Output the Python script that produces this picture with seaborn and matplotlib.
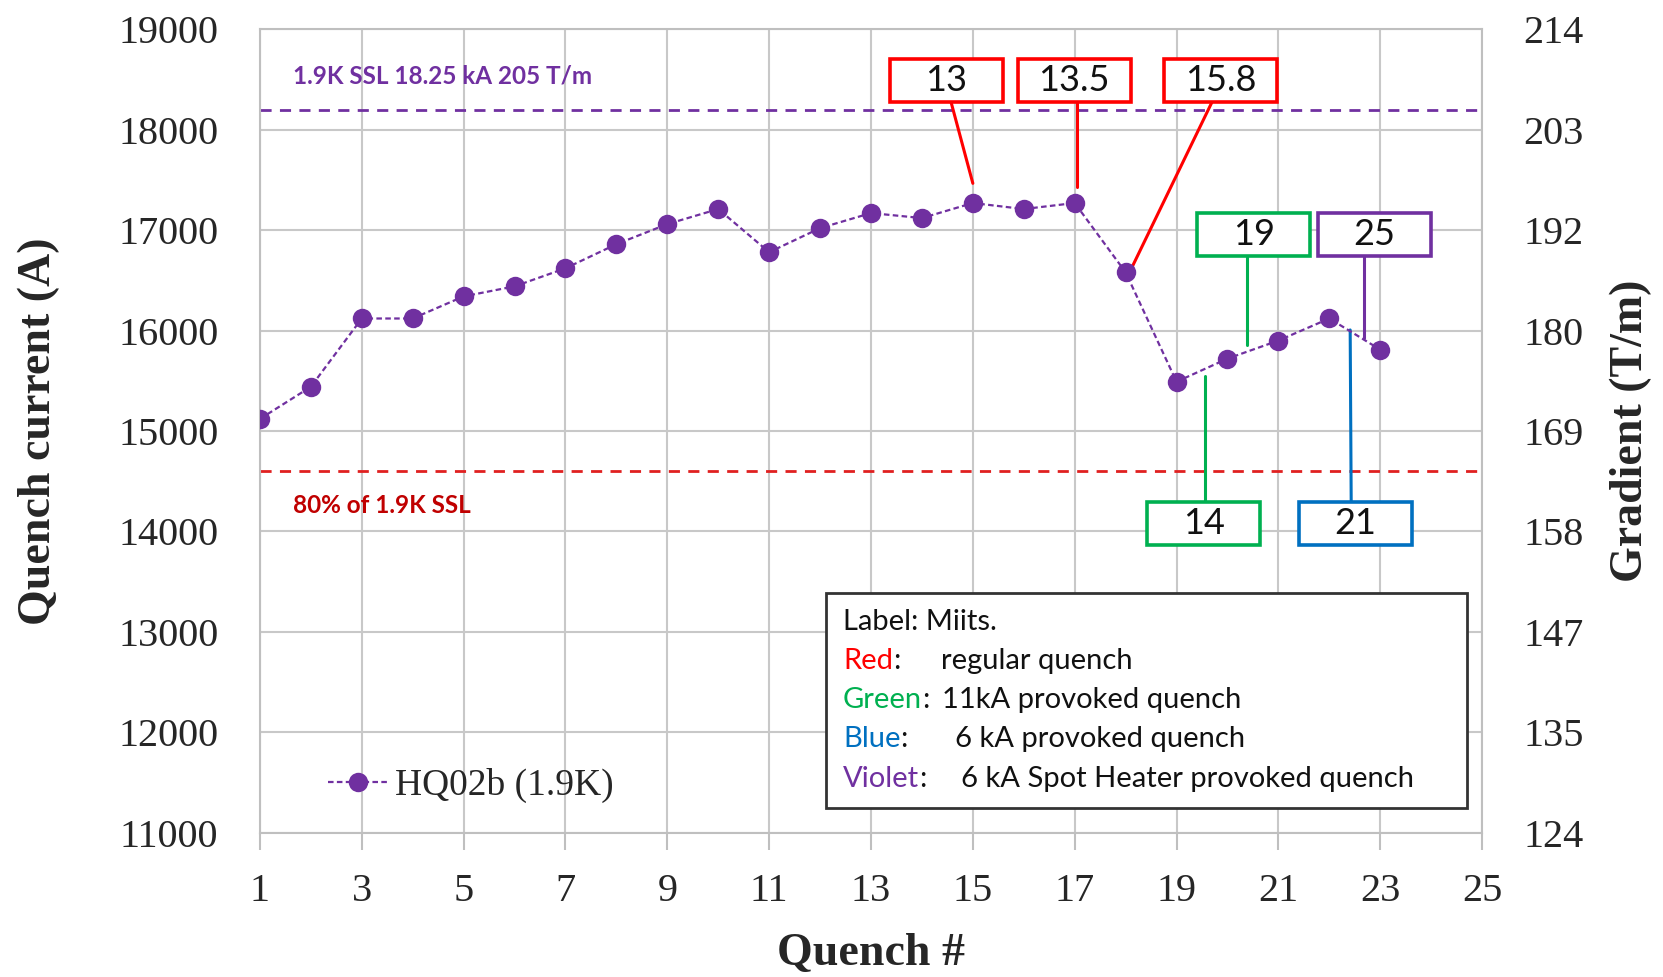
import matplotlib
matplotlib.use("Agg")
import matplotlib.pyplot as plt
import seaborn as sns
import pandas as pd
from matplotlib.patches import Rectangle

# ---------------- data ----------------
quench_no = list(range(1, 24))
quench_current = [15120, 15440, 16120, 16120, 16340, 16440, 16620, 16860, 17060, 17210,
                  16780, 17020, 17170, 17120, 17270, 17210, 17270, 16580, 15490, 15720,
                  15900, 16120, 15810]
series_name = "HQ02b (1.9K)"

ssl_current = 18200
ssl_text = "1.9K SSL 18.25 kA 205 T/m"
ssl80_current = 14600
ssl80_text = "80% of 1.9K SSL"

y_ticks = [11000, 12000, 13000, 14000, 15000, 16000, 17000, 18000, 19000]
gradient_labels = ["124", "135", "147", "158", "169", "180", "192", "203", "214"]
x_ticks = list(range(1, 26, 2))

# Miits labels
miits_text = ["13", "13.5", "15.8", "19", "25", "14", "21"]
miits_kind = ["Red", "Red", "Red", "Green", "Violet", "Green", "Blue"]

legend_lines = [("", "Label: Miits."),
                ("Red", "regular quench"),
                ("Green", "11kA provoked quench"),
                ("Blue", "6 kA provoked quench"),
                ("Violet", "6 kA Spot Heater provoked quench")]

# ---------------- layout / styles ----------------
kind_color = {"Red": "#FF0000", "Green": "#00B050", "Blue": "#0070C0", "Violet": "#7030A0"}
purple = "#7030A0"
box_center = [(14.48, 18494), (16.99, 18494), (19.86, 18494), (20.52, 16954),
              (22.88, 16954), (19.53, 14075), (22.51, 14075)]
box_w, box_h = 2.22, 430
leaders = [(14.57, 18279, 15.0, 17466), (17.05, 18279, 17.05, 17432),
           (19.70, 18279, 18.13, 16635), (20.39, 16735, 20.39, 15856),
           (22.69, 16735, 22.69, 15922), (19.55, 14285, 19.55, 15550),
           (22.43, 14285, 22.41, 16006)]
desc_x = [None, 14.38, 14.40, 14.65, 14.77]
line_y = [13102, 12710, 12320, 11929, 11538]

sns.set_theme(style="white")
serif = ["Liberation Serif", "DejaVu Serif"]
sans = ["Lato", "DejaVu Sans"]
plt.rcParams["font.family"] = serif

fig = plt.figure(figsize=(16.63, 9.77), dpi=100)
ax = fig.add_axes([0.1563, 0.1478, 0.7349, 0.8222])

df = pd.DataFrame({"Quench #": quench_no, "Quench current (A)": quench_current})
sns.lineplot(data=df, x="Quench #", y="Quench current (A)", ax=ax, color=purple,
             marker="o", markersize=14, markeredgewidth=0, linewidth=1.6,
             linestyle=(0, (2.5, 1.5)), label=series_name, zorder=5)

ax.set_xlim(1, 25)
ax.set_ylim(11000, 19000)
ax.set_xticks(x_ticks)
ax.set_yticks(y_ticks)
ax.grid(True, color="#C8C8C8", linewidth=1.5)
ax.set_axisbelow(True)
for s in ax.spines.values():
    s.set_color("#BFBFBF")
    s.set_linewidth(1.5)
ax.tick_params(axis="x", which="major", length=12, color="#BFBFBF", width=1.5,
               direction="out", bottom=True, pad=17, labelsize=29)
ax.tick_params(axis="y", length=0, pad=30, labelsize=29)
ax.set_xlabel("Quench #", fontsize=33, fontweight="bold", labelpad=17)
ax.set_ylabel("Quench current (A)", fontsize=33, fontweight="bold", labelpad=42)

# reference lines
ax.axhline(ssl_current, color=purple, linestyle=(0, (4, 3)), linewidth=2)
ax.axhline(ssl80_current, color="#E02020", linestyle=(0, (4, 3)), linewidth=2)
ax.text(1.65, 18535, ssl_text, color=purple, fontsize=17.5, fontweight="bold",
        family=sans, va="center", ha="left")
ax.text(1.65, 14262, ssl80_text, color="#C00000", fontsize=17.5, fontweight="bold",
        family=sans, va="center", ha="left")

# Miits annotation boxes
for txt, kind, (cx, cy), (x0, y0, x1, y1) in zip(miits_text, miits_kind, box_center, leaders):
    c = kind_color[kind]
    ax.plot([x0, x1], [y0, y1], color=c, linewidth=2.2, zorder=4)
    ax.add_patch(Rectangle((cx - box_w / 2, cy - box_h / 2), box_w, box_h,
                           facecolor="white", edgecolor=c, linewidth=2.6, zorder=6))
    ax.text(cx, cy, txt, ha="center", va="center", fontsize=26, family=sans,
            color="#111111", zorder=7)

# explanation box
ax.add_patch(Rectangle((12.12, 11245), 24.71 - 12.12, 13385 - 11245,
                       facecolor="white", edgecolor="#333333", linewidth=2, zorder=6))
x_left = 12.45
fs = 21
for (kind, desc), yy, dx in zip(legend_lines, line_y, desc_x):
    if kind == "":
        ax.text(x_left, yy, desc, fontsize=fs, family=sans, color="#111111",
                va="center", ha="left", zorder=7)
        continue
    t = ax.text(x_left, yy, kind, fontsize=fs, family=sans, color=kind_color[kind],
                va="center", ha="left", zorder=7)
    ax.annotate(":", xy=(1, 0.5), xycoords=t, va="center", ha="left", fontsize=fs,
                family=sans, color="#111111", zorder=7)
    ax.text(dx, yy, desc, fontsize=fs, family=sans, color="#111111",
            va="center", ha="left", zorder=7)

# series legend
leg = ax.legend(loc="lower left", bbox_to_anchor=(0.028, -0.005), frameon=False,
                handlelength=1.6, handletextpad=0.2,
                prop={"family": serif, "size": 27})

# right axis
ax2 = ax.twinx()
ax2.set_ylim(11000, 19000)
ax2.set_yticks(y_ticks)
ax2.set_yticklabels(gradient_labels)
ax2.tick_params(axis="y", length=0, pad=30, labelsize=29)
for s in ax2.spines.values():
    s.set_visible(False)
ax2.grid(False)
ax2.set_ylabel("Gradient (T/m)", fontsize=33, fontweight="bold", labelpad=18)

fig.savefig("out.png", dpi=100)
